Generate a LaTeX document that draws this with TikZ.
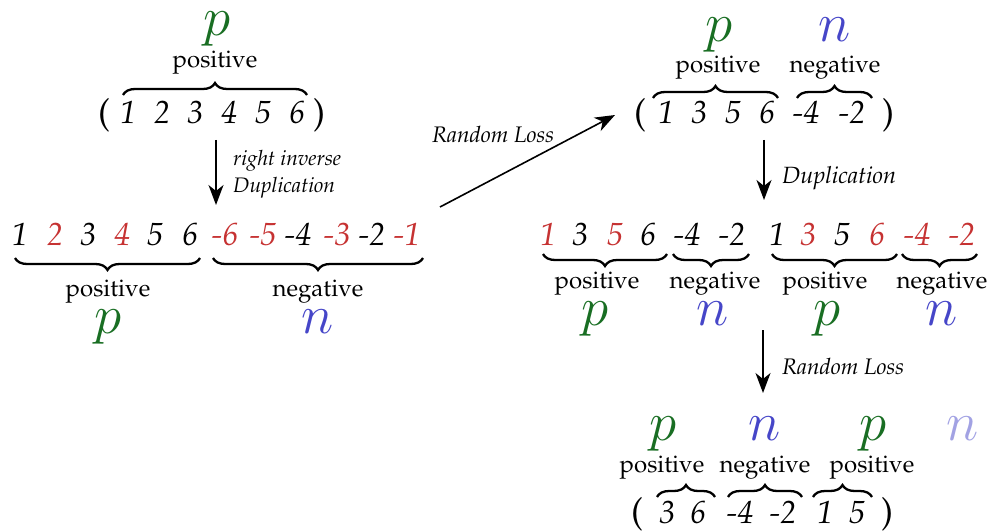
\RequirePackage{fix-cm}
\documentclass[tikz,border=0pt]{standalone}
\usepackage[T1]{fontenc}
\renewcommand{\rmdefault}{ppl}
\usetikzlibrary{decorations.pathreplacing,arrows.meta}
\definecolor{pgreen}{RGB}{25,110,35}
\definecolor{nblue}{RGB}{70,70,200}
\definecolor{dred}{RGB}{198,50,50}
\begin{document}
\begin{tikzpicture}[x=1pt,y=-1pt,
  dig/.style={anchor=base,inner sep=0pt,font=\fontsize{32}{36}\selectfont\itshape},
  par/.style={anchor=base,inner sep=0pt,font=\fontsize{36}{40}\selectfont},
  lab/.style={anchor=base,inner sep=0pt,font=\fontsize{24}{28}\selectfont},
  sym/.style={anchor=base,inner sep=0pt,font=\fontsize{55}{60}\selectfont},
  itl/.style={anchor=base west,inner sep=0pt,font=\fontsize{21}{24}\selectfont\itshape},
  itr/.style={anchor=base west,inner sep=0pt,font=\fontsize{22.5}{26}\selectfont\itshape},
  itd/.style={anchor=base west,inner sep=0pt,font=\fontsize{23.5}{27}\selectfont\itshape},
  bru/.style={decorate,decoration={brace,amplitude=12pt},line width=2.3pt},
  brd/.style={decorate,decoration={brace,amplitude=12pt,mirror},line width=2.3pt},
  arr/.style={-{Stealth[length=20pt,width=15pt,inset=6pt]},line width=1.6pt}]
\useasboundingbox (0,0) rectangle (991,532);

% ---------- top left ----------
\node[sym,text=pgreen] (tlp) at (217,36) {$p$};
\node[lab] (tlpos) at (215,68) {positive};
\draw[bru] (123,95) -- (307,95);
\node[par] (tlo) at (104,125) {(};
\node[par] (tlc) at (319,125) {)};
\foreach \x/\t [count=\i] in {128/1,162/2,195/3,229/4,263/5,297/6}
  \node[dig] (tld\i) at (\x,124) {\t};

% arrow 1
\coordinate (a1s) at (216,140);
\coordinate (a1e) at (216,205);
\draw[arr] (a1s) -- (a1e);
\node[itl] (l1a) at (233,165) {right inverse};
\node[itl] (l1b) at (233,193) {Duplication};

% ---------- second row left ----------
\foreach \x/\t/\c [count=\i] in {20/1/black,55/2/dred,88/3/black,122/4/dred,155/5/black,190/6/black,
  225/-6/dred,263/-5/dred,298/-4/black,337/-3/dred,372/-2/black,407/-1/dred}
  \node[dig,text=\c] (ld\i) at (\x,245) {\t};
\draw[brd] (15,258) -- (200,258);
\draw[brd] (213,258) -- (423,258);
\node[lab] (lpos) at (108,296) {positive};
\node[lab] (lneg) at (318,296) {negative};
\node[sym,text=pgreen] (lp) at (108,333) {$p$};
\node[sym,text=nblue] (ln) at (318,333) {$n$};

% arrow Random Loss
\coordinate (a2s) at (440,207);
\coordinate (a2e) at (615,115);
\draw[arr] (a2s) -- (a2e);
\node[itr] (l2) at (432,143) {Random Loss};

% ---------- top right ----------
\node[sym,text=pgreen] (trp) at (719,42) {$p$};
\node[sym,text=nblue] (trn) at (835,42) {$n$};
\node[lab] (trpos) at (718,73) {positive};
\node[lab] (trneg) at (835,73) {negative};
\draw[bru] (653,98) -- (778,98);
\draw[bru] (797,98) -- (872,98);
\node[par] (tro) at (640,125) {(};
\node[par] (trc) at (888,125) {)};
\foreach \x/\t [count=\i] in {666/1,699/3,733/5,767/6,806/-4,852/-2}
  \node[dig] (trd\i) at (\x,124) {\t};

% arrow Duplication
\coordinate (a3s) at (764,140);
\coordinate (a3e) at (764,200);
\draw[arr] (a3s) -- (a3e);
\node[itd] (l3) at (782,183) {Duplication};

% ---------- second row right ----------
\foreach \x/\t/\c [count=\i] in {548/1/dred,580/3/black,615/5/dred,648/6/black,687/-4/black,732/-2/black,
  777/1/black,808/3/dred,842/5/black,877/6/dred,917/-4/dred,962/-2/dred}
  \node[dig,text=\c] (rd\i) at (\x,245) {\t};
\draw[brd] (543,254) -- (667,254);
\draw[brd] (673,254) -- (749,254);
\draw[brd] (772,254) -- (897,254);
\draw[brd] (902,254) -- (977,254);
\node[lab] (rpos1) at (597,288) {positive};
\node[lab] (rneg1) at (715,288) {negative};
\node[lab] (rpos2) at (825,288) {positive};
\node[lab] (rneg2) at (942,288) {negative};
\node[sym,text=pgreen] (rp1) at (595,325) {$p$};
\node[sym,text=nblue] (rn1) at (713,325) {$n$};
\node[sym,text=pgreen] (rp2) at (827,325) {$p$};
\node[sym,text=nblue] (rn2) at (942,325) {$n$};

% arrow Random Loss 2
\coordinate (a4s) at (763,330);
\coordinate (a4e) at (763,393);
\draw[arr] (a4s) -- (a4e);
\node[itr] (l4) at (782,374) {Random Loss};

% ---------- bottom ----------
\node[sym,text=pgreen] (bp1) at (663,440) {$p$};
\node[sym,text=nblue] (bn1) at (765,440) {$n$};
\node[sym,text=pgreen] (bp2) at (873,440) {$p$};
\node[sym,text=nblue,text opacity=0.5] (bn2) at (963,440) {$n$};
\node[lab] (bpos1) at (662,472) {positive};
\node[lab] (bneg) at (765,472) {negative};
\node[lab] (bpos2) at (872,472) {positive};
\draw[bru] (657,497) -- (715,497);
\draw[bru] (728,497) -- (802,497);
\draw[bru] (813,497) -- (872,497);
\node[par] (bo) at (637,523) {(};
\node[par] (bc) at (887,523) {)};
\foreach \x/\t [count=\i] in {667/3,698/6,740/-4,783/-2,825/1,857/5}
  \node[dig] (bd\i) at (\x,523) {\t};
\end{tikzpicture}
\end{document}
